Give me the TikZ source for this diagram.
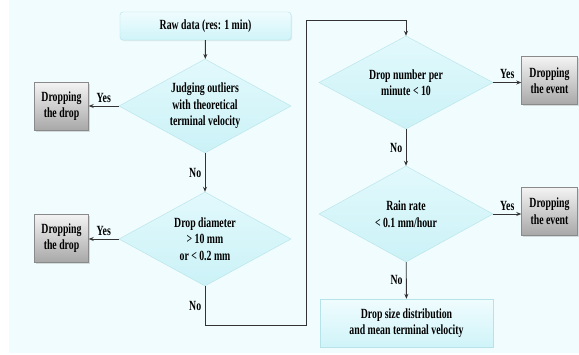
\documentclass[tikz,border=0pt]{standalone}
\usepackage{fontspec}
\setmainfont{Liberation Serif}[FakeStretch=0.7]
\usetikzlibrary{shapes.geometric,shadows,arrows.meta}
\definecolor{bgcyan}{HTML}{F0FCFD}
\definecolor{boxtop}{HTML}{F0FCFE}
\definecolor{boxbot}{HTML}{CFF4F9}
\definecolor{boxline}{HTML}{B5E3E8}
\definecolor{dectop}{HTML}{E2F9FC}
\definecolor{decbot}{HTML}{CBF2F7}
\definecolor{greytop}{HTML}{F4F4F4}
\definecolor{greybot}{HTML}{A8A8A8}
\definecolor{greyline}{HTML}{8A8A8A}
\definecolor{wire}{HTML}{333333}
\tikzset{
  startbox/.style={draw=boxline,top color=boxtop,bottom color=boxbot,rounded corners=3pt,
    minimum width=171,minimum height=28,align=center,
    drop shadow={opacity=.15,shadow xshift=1pt,shadow yshift=-1pt}},
  endbox/.style={draw=boxline,top color=boxtop,bottom color=boxbot,
    minimum width=173,minimum height=48,align=center,
    drop shadow={opacity=.15,shadow xshift=1pt,shadow yshift=-1pt}},
  decision/.style={diamond,draw=boxline,top color=dectop,bottom color=decbot,
    minimum width=172,minimum height=94,inner sep=0pt,aspect=1.83,align=center},
  dropbox/.style={draw=greyline,top color=greytop,bottom color=greybot,
    minimum width=54,minimum height=48,inner sep=1pt,align=center,
    drop shadow={opacity=.25,shadow xshift=1.5pt,shadow yshift=-1.5pt}},
  flow/.style={draw=wire,line width=.9pt,-{Stealth[length=5pt,width=4pt]}}
}
\begin{document}
\begin{tikzpicture}[x=1pt,y=-1pt,font=\bfseries\fontsize{14pt}{16.5pt}\selectfont]
\useasboundingbox (0,0) rectangle (579,354);
\fill [bgcyan] (9,0) rectangle (579,353);

\node (raw) at (205.5,26) [startbox] {Raw data (res: 1 min)};
\node (judge) at (205,106) [decision] {Judging outliers\\with theoretical\\terminal velocity};
\node (diam) at (205,239) [decision] {Drop diameter\\> 10 mm\\or < 0.2 mm};
\node (drop1) at (61.5,106) [dropbox] {Dropping\\the drop};
\node (drop2) at (61.5,238) [dropbox] {Dropping\\the drop};

\node (number) at (406,82.5) [decision,minimum width=174,minimum height=93] {Drop number per\\minute < 10};
\node (rate) at (406,214) [decision,minimum width=174,minimum height=96] {Rain rate\\< 0.1 mm/hour};
\node (event1) at (549.5,80.5) [dropbox,minimum width=56] {Dropping\\the event};
\node (event2) at (549.5,211) [dropbox,minimum width=56] {Dropping\\the event};
\node (dsd) at (406.5,323) [endbox] {Drop size distribution\\and mean terminal velocity};

\coordinate (turn1) at (306,325);
\coordinate (turn2) at (306,20);

\draw [flow] (raw) -- (judge);
\draw [flow] (judge.west) -- node [above] {Yes} (drop1.east |- judge.west);
\draw [flow] (judge) -- node [left] {No} (diam);
\draw [flow] (diam.west) -- node [above] {Yes} (drop2.east |- diam.west);
\draw [flow] (diam.south) -- node [left] {No} (diam.south |- turn1) -- (turn1) -- (turn2) -| (number.north);
\draw [flow] (number.east) -- node [above] {Yes} (number.east -| event1.west);
\draw [flow] (number) -- node [left] {No} (rate);
\draw [flow] (rate.east) -- node [above] {Yes} (rate.east -| event2.west);
\draw [flow] (rate) -- node [left] {No} (dsd);
\end{tikzpicture}
\end{document}
